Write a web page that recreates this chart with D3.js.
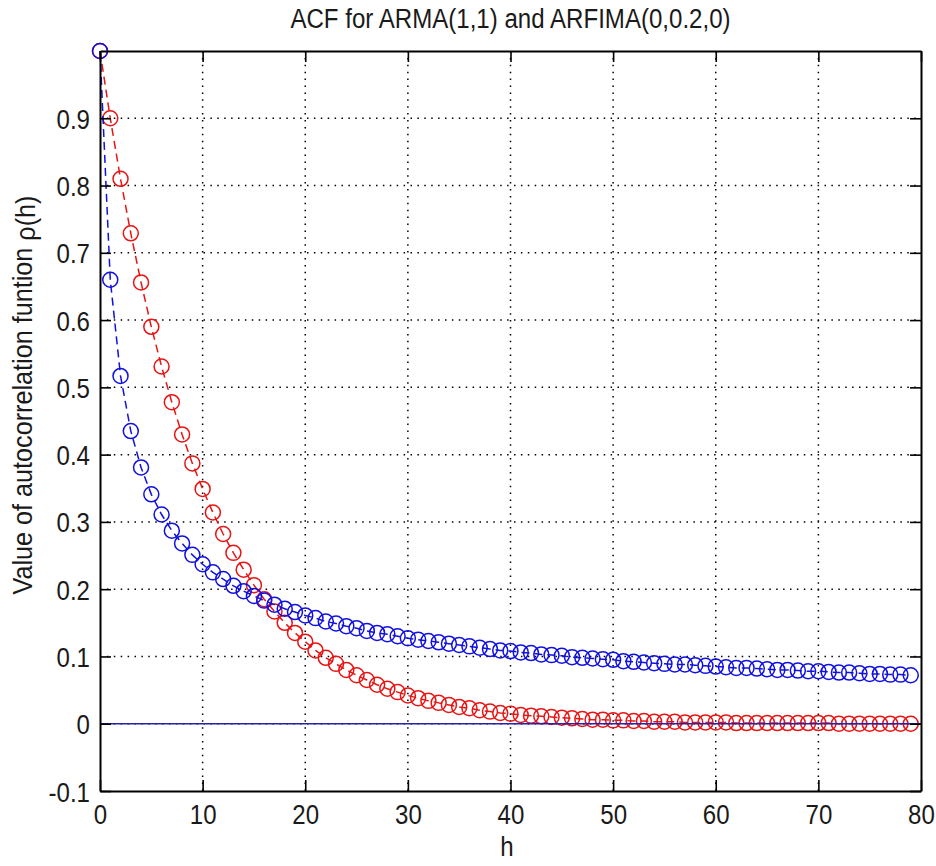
<!DOCTYPE html>
<html>
<head>
<meta charset="utf-8">
<script src="https://cdn.jsdelivr.net/npm/d3@7"></script>
<style>
  html, body { margin: 0; padding: 0; background: #fff; }
  svg { display: block; font-family: "Liberation Sans", Arial, sans-serif; }
</style>
</head>
<body>
<svg id="chart" width="936" height="866"></svg>
<script>
// ---- data ----
const title = "ACF for ARMA(1,1) and ARFIMA(0,0.2,0)";
const xLabel = "h";
const yLabel = "Value of autocorrelation funtion ";
const yLabelSym = "\u03c1(h)";

const lags = d3.range(0, 80); // h = 0 .. 79

// ARMA(1,1) (red)
const armaAcf = [
  1.000, 0.900, 0.810, 0.729, 0.656, 0.590, 0.531, 0.478, 0.430, 0.387,
  0.349, 0.314, 0.282, 0.254, 0.229, 0.206, 0.185, 0.167, 0.150, 0.135,
  0.122, 0.109, 0.098, 0.089, 0.080, 0.072, 0.065, 0.058, 0.052, 0.047,
  0.042, 0.038, 0.034, 0.031, 0.028, 0.025, 0.023, 0.020, 0.018, 0.016,
  0.015, 0.013, 0.012, 0.011, 0.010, 0.009, 0.008, 0.007, 0.006, 0.006,
  0.005, 0.005, 0.004, 0.004, 0.003, 0.003, 0.003, 0.002, 0.002, 0.002,
  0.002, 0.002, 0.001, 0.001, 0.001, 0.001, 0.001, 0.001, 0.001, 0.001,
  0.001, 0.001, 0.000, 0.000, 0.000, 0.000, 0.000, 0.000, 0.000, 0.000
];

// ARFIMA(0,0.2,0) (blue)
const arfimaAcf = [
  1.000, 0.660, 0.517, 0.435, 0.381, 0.341, 0.311, 0.287, 0.268, 0.251,
  0.237, 0.225, 0.215, 0.205, 0.197, 0.190, 0.183, 0.177, 0.171, 0.166,
  0.161, 0.157, 0.152, 0.149, 0.145, 0.142, 0.138, 0.135, 0.133, 0.130,
  0.127, 0.125, 0.123, 0.121, 0.119, 0.117, 0.115, 0.113, 0.111, 0.109,
  0.108, 0.106, 0.105, 0.103, 0.102, 0.101, 0.099, 0.098, 0.097, 0.096,
  0.095, 0.093, 0.092, 0.091, 0.090, 0.089, 0.088, 0.088, 0.087, 0.086,
  0.085, 0.084, 0.083, 0.083, 0.082, 0.081, 0.080, 0.080, 0.079, 0.078,
  0.078, 0.077, 0.076, 0.076, 0.075, 0.074, 0.074, 0.073, 0.073, 0.072
];

const xTicks = [0, 10, 20, 30, 40, 50, 60, 70, 80];
const yTicks = [-0.1, 0, 0.1, 0.2, 0.3, 0.4, 0.5, 0.6, 0.7, 0.8, 0.9];
const xDomain = [0, 80];
const yDomain = [-0.1, 1.0];

// ---- layout ----
const svg = d3.select("#chart");
const L = 100, R = 921, T = 51, B = 791;
const FS = 28, SX = 0.86;   // condensed MATLAB-like text

const x = d3.scaleLinear().domain(xDomain).range([L, R]);
const y = d3.scaleLinear().domain(yDomain).range([B, T]);

// grid (dotted)
const grid = svg.append("g");
grid.selectAll("line.gx").data(xTicks.filter(t => t > xDomain[0] && t < xDomain[1])).enter()
  .append("line")
  .attr("x1", d => x(d)).attr("x2", d => x(d))
  .attr("y1", T).attr("y2", B)
  .attr("stroke", "#000").attr("stroke-width", 1.5)
  .attr("stroke-dasharray", "1.5,5.4");
grid.selectAll("line.gy").data(yTicks.filter(t => t > yDomain[0] && t < yDomain[1])).enter()
  .append("line")
  .attr("y1", d => y(d)).attr("y2", d => y(d))
  .attr("x1", L).attr("x2", R)
  .attr("stroke", "#000").attr("stroke-width", 1.5)
  .attr("stroke-dasharray", "1.5,5.4");

// series
function drawSeries(vals, color) {
  const pts = lags.map((h, i) => [h, vals[i]]);
  const line = d3.line().x(d => x(d[0])).y(d => y(d[1]));
  const g = svg.append("g");
  g.append("path").datum(pts)
    .attr("d", line)
    .attr("fill", "none").attr("stroke", color)
    .attr("stroke-width", 1.5)
    .attr("stroke-dasharray", "8,5");
  g.selectAll("circle").data(pts).enter().append("circle")
    .attr("cx", d => x(d[0])).attr("cy", d => y(d[1]))
    .attr("r", 7.5)
    .attr("fill", "none").attr("stroke", color).attr("stroke-width", 1.5);
}
drawSeries(armaAcf, "#e81414");
drawSeries(arfimaAcf, "#1010e0");

// zero line
svg.append("line")
  .attr("x1", x(xDomain[0])).attr("x2", x(xDomain[1]))
  .attr("y1", y(0)).attr("y2", y(0))
  .attr("stroke", "#2424b0").attr("stroke-width", 1.6);

// axes (MATLAB-style box, ticks inward)
const tickLen = 11;
const axB = svg.append("g").attr("transform", `translate(0,${B})`)
  .call(d3.axisBottom(x).tickValues(xTicks).tickFormat(d3.format("d")).tickSizeInner(-tickLen).tickSizeOuter(0).tickPadding(13));
const axT = svg.append("g").attr("transform", `translate(0,${T})`)
  .call(d3.axisTop(x).tickValues(xTicks).tickFormat("").tickSizeInner(-tickLen).tickSizeOuter(0));
const axL = svg.append("g").attr("transform", `translate(${L},0)`)
  .call(d3.axisLeft(y).tickValues(yTicks).tickFormat(d => d === 0 ? "0" : d3.format(".1f")(d)).tickSizeInner(-tickLen).tickSizeOuter(0).tickPadding(10 / SX));
const axR = svg.append("g").attr("transform", `translate(${R},0)`)
  .call(d3.axisRight(y).tickValues(yTicks).tickFormat("").tickSizeInner(-tickLen).tickSizeOuter(0));

[axB, axT, axL, axR].forEach(a => {
  a.select(".domain").attr("stroke", "#000").attr("stroke-width", 2);
  a.selectAll(".tick line").attr("stroke", "#000").attr("stroke-width", 1.6);
  a.selectAll("text").attr("font-size", FS).attr("fill", "#1a1a1a")
    .attr("font-family", "'Liberation Sans', Arial, sans-serif")
    .attr("transform", `scale(${SX},1)`);
});
axB.selectAll("text").attr("dy", "0.71em");
axL.selectAll("text").attr("dy", "0.36em").text(d => d === 0 ? "0" : d3.format(".1f")(d).replace("\u2212", "-"));

// title and labels
svg.append("text")
  .attr("transform", `translate(${(L + R) / 2},28) scale(${SX},1)`)
  .attr("text-anchor", "middle").attr("font-size", FS).attr("fill", "#1a1a1a")
  .text(title);
svg.append("text")
  .attr("transform", `translate(507,856) scale(${SX},1)`)
  .attr("text-anchor", "middle").attr("font-size", FS).attr("fill", "#1a1a1a")
  .text(xLabel);
const yl = svg.append("text")
  .attr("transform", `translate(32,395) rotate(-90) scale(0.9,1)`)
  .attr("text-anchor", "middle").attr("font-size", FS).attr("fill", "#1a1a1a");
yl.append("tspan").text(yLabel);
yl.append("tspan").attr("dy", 3).text(yLabelSym);
</script>
</body>
</html>
